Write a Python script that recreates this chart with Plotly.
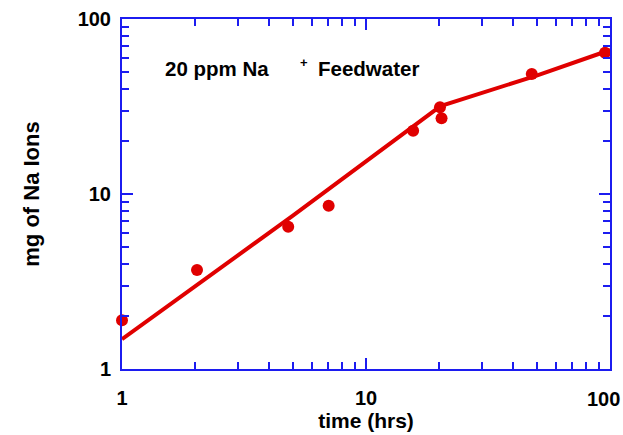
import plotly.graph_objects as go

# measured data points
time_hrs = [1.0, 2.03, 4.8, 7.03, 15.6, 20.1, 20.4, 47.8, 95.4]
na_mg = [1.9, 3.68, 6.5, 8.58, 23.0, 31.3, 27.1, 48.5, 64.2]

# fitted curve
fit_time = [1.0, 5.0, 20.2, 50.0, 100.0]
fit_na = [1.48, 7.5, 31.8, 47.5, 66.5]

# tick labels
tick_vals = [1, 10, 100]
tick_text = ["1", "10", "100"]

RED = "#e00000"
BLUE = "#1c1cf0"
FAM = "Liberation Sans, Arial, sans-serif"
TICKFONT = dict(family=FAM, size=20, color="black", weight="bold")
TITLEFONT = dict(family=FAM, size=21, color="black", weight="bold")
YTITLEFONT = dict(family=FAM, size=22, color="black", weight="bold")
ANNFONT = dict(family=FAM, size=20.5, color="black", weight="bold")

fig = go.Figure()
fig.add_trace(go.Scatter(x=fit_time, y=fit_na, mode="lines",
                         line=dict(color=RED, width=4), showlegend=False, hoverinfo="skip"))
fig.add_trace(go.Scatter(x=time_hrs, y=na_mg, mode="markers", cliponaxis=False,
                         marker=dict(color=RED, size=12), showlegend=False))

axis_common = dict(
    type="log", showgrid=False, zeroline=False, automargin=False,
    showline=True, linecolor=BLUE, linewidth=2, mirror="ticks",
    ticks="inside", ticklen=11, tickwidth=1.5, tickcolor=BLUE,
    minor=dict(ticks="inside", ticklen=7, tickwidth=1.5, tickcolor=BLUE, dtick="D1", showgrid=False),
    tickfont=TICKFONT, tickmode="array", tickvals=tick_vals,
)

fig.update_layout(
    width=623, height=435,
    margin=dict(l=122, r=13, t=19, b=66),
    plot_bgcolor="white", paper_bgcolor="white",
    # the last x label (100) is placed through the axis with a small shift so it stays inside the page
    xaxis=dict(range=[0, 2], ticktext=tick_text[:2] + [""],
               title=dict(text="time (hrs)", font=TITLEFONT, standoff=2),
               ticklabelstandoff=10, **axis_common),
    yaxis=dict(range=[0, 2], ticktext=tick_text,
               title=dict(text="mg of Na Ions", font=YTITLEFONT, standoff=32),
               ticklabelstandoff=5, **axis_common),
    annotations=[
        dict(text=tick_text[2], xref="x", yref="paper", x=2, y=0, xshift=-7, yshift=-17,
             xanchor="center", yanchor="top", showarrow=False, font=TICKFONT),
        dict(text="20 ppm Na", xref="paper", yref="paper", x=(163 - 122) / 488, y=(369 - 68) / 350,
             xanchor="left", yanchor="middle", showarrow=False, font=ANNFONT),
        dict(text="+", xref="paper", yref="paper", x=(298 - 122) / 488, y=(369 - 62) / 350,
             xanchor="left", yanchor="middle", showarrow=False, font=dict(ANNFONT, size=13)),
        dict(text="Feedwater", xref="paper", yref="paper", x=(316 - 122) / 488, y=(369 - 68) / 350,
             xanchor="left", yanchor="middle", showarrow=False, font=ANNFONT),
    ],
)

fig.write_html("out.html")
